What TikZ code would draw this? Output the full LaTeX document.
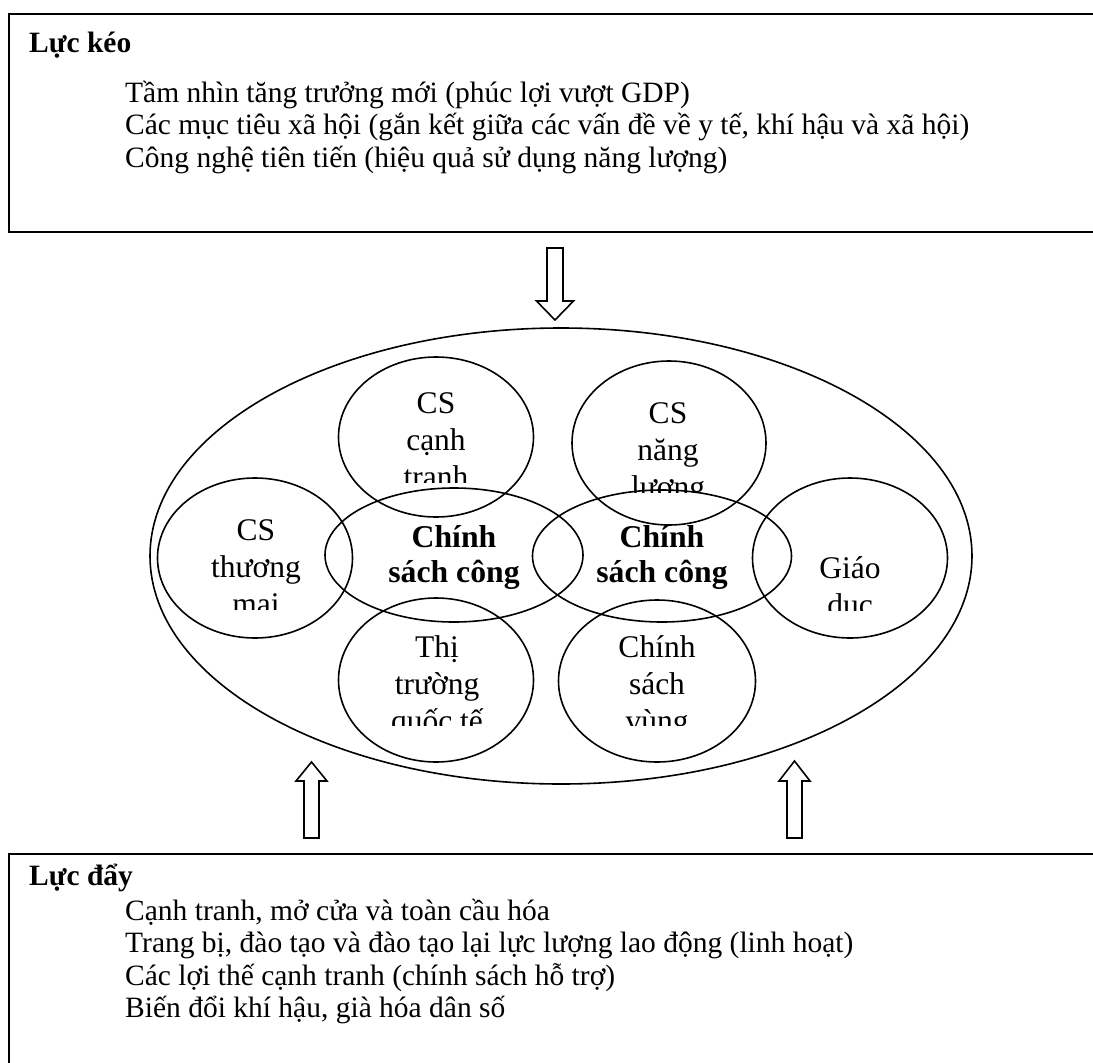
\documentclass[tikz,border=0pt]{standalone}
\usepackage{fontspec}
\setmainfont{Liberation Serif}
\usetikzlibrary{shapes.geometric}
\begin{document}
\begin{tikzpicture}[x=1pt,y=-1pt,
  box/.style={draw,line width=2pt,minimum width=1200pt,anchor=north west,inner sep=0pt},
  oval/.style={draw,ellipse,line width=1.6pt,inner sep=0pt},
  head/.style={font=\bfseries\fontsize{29.5}{32.5}\selectfont,anchor=base west,inner sep=0pt},
  items/.style={font=\fontsize{29.5}{32.5}\selectfont,align=left,anchor=base west,inner sep=0pt},
  ctext/.style={font=\fontsize{31.5}{37}\selectfont,align=center,anchor=base,inner sep=0pt},
  btext/.style={font=\bfseries\fontsize{31.7}{35}\selectfont,align=center,anchor=base,inner sep=0pt},
  blockarrow/.style={draw,line width=1.6pt,fill=white,line join=miter}]

\clip (0,0) rectangle (1093,1063);
\fill[white] (0,0) rectangle (1093,1063);

% boxes
\node[box,minimum height=218pt] (pullbox) at (8,13) {};
\node[box,minimum height=300pt] (pushbox) at (8,853) {};

% multi-line nodes: base anchor = baseline of last line
\node[head] (pullhead) at (29,52) {Lực kéo};
\node[items] (pullitems) at (125,167) {Tầm nhìn tăng trưởng mới (phúc lợi vượt GDP)\\
Các mục tiêu xã hội (gắn kết giữa các vấn đề về y tế, khí hậu và xã hội)\\
Công nghệ tiên tiến (hiệu quả sử dụng năng lượng)};

\node[head] (pushhead) at (29,885) {Lực đẩy};
\node[items] (pushitems) at (125,1017.5) {Cạnh tranh, mở cửa và toàn cầu hóa\\
Trang bị, đào tạo và đào tạo lại lực lượng lao động (linh hoạt)\\
Các lợi thế cạnh tranh (chính sách hỗ trợ)\\
Biến đổi khí hậu, già hóa dân số};

% ellipses
\node[oval,minimum width=822pt,minimum height=456pt] (outer) at (561,556) {};
\node[oval,minimum width=195pt,minimum height=160pt] (cst) at (436,437) {};
\node[oval,minimum width=194pt,minimum height=164pt] (csn) at (669,443) {};
\node[oval,minimum width=258pt,minimum height=134pt] (pl) at (454,555) {};
\node[oval,minimum width=259pt,minimum height=132pt] (pr) at (662,556) {};
\node[oval,minimum width=195pt,minimum height=160pt] (cstm) at (255,558) {};
\node[oval,minimum width=195pt,minimum height=160pt] (gd) at (850,558) {};
\node[oval,minimum width=195pt,minimum height=164pt] (tt) at (436,680) {};
\node[oval,minimum width=197pt,minimum height=162pt] (vung) at (657,681) {};

% texts (clipped like text boxes)
\begin{scope}\clip (330,350) rectangle (540,482);
\node[ctext] (tcst) at (436,487) {CS\\cạnh\\tranh};\end{scope}
\begin{scope}\clip (560,350) rectangle (780,492);
\node[ctext] (tcsn) at (668,497) {CS\\năng\\lượng};\end{scope}
\begin{scope}\clip (150,490) rectangle (360,609);
\node[ctext] (tcstm) at (256,614) {CS\\thương\\mai};\end{scope}
\begin{scope}\clip (745,490) rectangle (955,610);
\node[ctext] (tgd) at (850,615) {Giáo\\dục};\end{scope}
\begin{scope}\clip (330,600) rectangle (540,725);
\node[ctext] (ttt) at (437,731) {Thị\\trường\\quốc tế};\end{scope}
\begin{scope}\clip (550,600) rectangle (765,725);
\node[ctext] (tvung) at (657,731) {Chính\\sách\\vùng};\end{scope}
\node[btext] (tpl) at (454,582) {Chính\\sách công};
\node[btext] (tpr) at (662,582) {Chính\\sách công};

% block arrows
\draw[blockarrow] (547,248) -- (563,248) -- (563,301) -- (573.5,301) -- (555,320) -- (536.5,301) -- (547,301) -- cycle;
\draw[blockarrow] (304,838) -- (319,838) -- (319,781) -- (327,781) -- (311.5,762) -- (296,781) -- (304,781) -- cycle;
\draw[blockarrow] (787,838) -- (802,838) -- (802,781) -- (810,781) -- (794.5,761) -- (779,781) -- (787,781) -- cycle;
\end{tikzpicture}
\end{document}
